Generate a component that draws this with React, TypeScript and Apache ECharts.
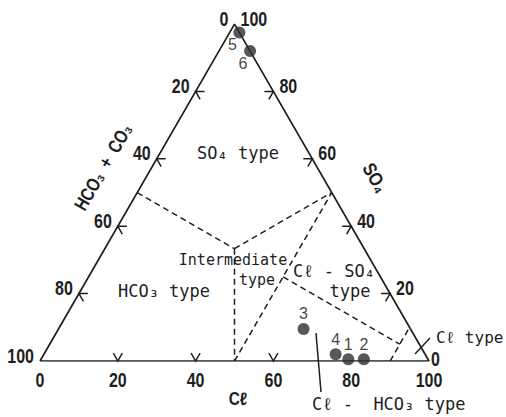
import React, { useEffect, useRef } from "react";
import * as echarts from "echarts";

// Sample compositions (% of anions): Cl, SO4, HCO3+CO3
const sampleIds = ["1", "2", "3", "4", "5", "6"];
const clPct = [79, 83, 63, 75, 2.5, 8];
const so4Pct = [0.5, 0.5, 9.5, 2, 97.5, 92];
const hco3Pct = [20.5, 16.5, 27.5, 23, 0, 0];

// Axis tick values / labels
const tickValues = [0, 20, 40, 60, 80, 100];
const tickLabels = ["0", "20", "40", "60", "80", "100"];
const sideChevronValues = [20, 40, 60, 80];
const bottomChevronValues = [20, 40, 60];

// Classification boundaries, endpoints given as [Cl, SO4] percent
const boundaryFrom = [
  [0, 50],
  [33.33, 33.33],
  [33.33, 33.33],
  [50, 0],
  [50, 25],
  [90, 0],
];
const boundaryTo = [
  [33.33, 33.33],
  [50, 50],
  [50, 0],
  [50, 50],
  [90, 5],
  [90, 10],
];

const H = Math.sqrt(3) / 2;
const xy = (cl: number, so4: number) => [cl + so4 / 2, so4 * H];

const INK = "#1e1e1e";
const NUM_FONT = "'Liberation Sans', Arial, sans-serif";
const MONO_FONT = "'DejaVu Sans Mono', 'Liberation Mono', monospace";

export default function App() {
  const ref = useRef<HTMLDivElement>(null);

  useEffect(() => {
    if (!ref.current) return;
    const chart = echarts.init(ref.current, undefined, { renderer: "svg" });

    const triangle = [xy(0, 0), xy(100, 0), xy(0, 100), xy(0, 0)];

    const boundarySeries = boundaryFrom.map((a, i) => ({
      type: "line",
      data: [xy(a[0], a[1]), xy(boundaryTo[i][0], boundaryTo[i][1])],
      symbol: "none",
      silent: true,
      lineStyle: { color: INK, width: 1.5, type: [6, 4] },
      z: 2,
    }));

    const chevronData: number[][] = [];
    bottomChevronValues.forEach((v) => chevronData.push([...xy(v, 0), 0]));
    sideChevronValues.forEach((v) => chevronData.push([...xy(0, 100 - v), 1]));
    sideChevronValues.forEach((v) => chevronData.push([...xy(100 - v, v), 2]));

    // [x, y, side, labelIndex]  side: 0 bottom (Cl), 1 left (HCO3+CO3), 2 right (SO4)
    const tickLabelData: number[][] = [];
    tickValues.forEach((v, i) => tickLabelData.push([...xy(v, 0), 0, i]));
    tickValues.forEach((v, i) => tickLabelData.push([...xy(0, 100 - v), 1, i]));
    tickValues.forEach((v, i) => tickLabelData.push([...xy(100 - v, v), 2, i]));

    const pointData = sampleIds.map((id, i) => {
      const total = clPct[i] + so4Pct[i] + hco3Pct[i];
      const c = (clPct[i] / total) * 100;
      const s = (so4Pct[i] / total) * 100;
      const nearApex = s > 50;
      return {
        name: id,
        value: xy(c, s),
        label: { offset: nearApex ? [-7, 12] : [0, -15] },
      };
    });

    const txt = (text: string, x: number, y: number, font: string, extra: any = {}) => {
      const { align, ...rest } = extra;
      return {
        type: "text",
        x,
        y,
        silent: true,
        ...rest,
        style: {
          text,
          font,
          fill: INK,
          align: align || "center",
          textAlign: align || "center",
          verticalAlign: "middle",
          textVerticalAlign: "middle",
        },
      };
    };

    chart.setOption({
      animation: false,
      backgroundColor: "#fff",
      grid: { left: 40, right: 77, top: 24.1, bottom: 56 },
      xAxis: { type: "value", min: 0, max: 100, show: false },
      yAxis: { type: "value", min: 0, max: 100 * H, show: false },
      series: [
        {
          type: "line",
          data: triangle,
          symbol: "none",
          silent: true,
          lineStyle: { color: INK, width: 1.7 },
          z: 3,
        },
        ...boundarySeries,
        {
          type: "custom",
          data: chevronData,
          encode: { x: 0, y: 1 },
          silent: true,
          z: 3,
          renderItem: (params: any, api: any) => {
            const p = api.coord([api.value(0), api.value(1)]);
            const side = api.value(2);
            const L = 9;
            let a: number[];
            let b: number[];
            if (side === 0) {
              a = [p[0] - L * 0.5, p[1] - L * H];
              b = [p[0] + L * 0.5, p[1] - L * H];
            } else if (side === 1) {
              a = [p[0] + L, p[1]];
              b = [p[0] + L * 0.5, p[1] + L * H];
            } else {
              a = [p[0] - L, p[1]];
              b = [p[0] - L * 0.5, p[1] + L * H];
            }
            return {
              type: "polyline",
              shape: { points: [a, p, b] },
              style: { stroke: INK, lineWidth: 1.5, fill: null },
            };
          },
        },
        {
          type: "custom",
          data: tickLabelData,
          encode: { x: 0, y: 1 },
          silent: true,
          z: 5,
          renderItem: (params: any, api: any) => {
            const p = api.coord([api.value(0), api.value(1)]);
            const side = api.value(2);
            const idx = api.value(3);
            let dx = 0;
            let dy = 0;
            let align = "center";
            if (side === 0) {
              dy = 19;
            } else if (side === 1) {
              dx = -6;
              dy = -5;
              align = "right";
            } else {
              align = "left";
              if (idx === 0) {
                dx = 2;
                dy = -2;
              } else {
                dx = 6;
                dy = -5;
              }
            }
            return {
              type: "text",
              x: p[0] + dx,
              y: p[1] + dy,
              scaleX: 0.8,
              style: {
                text: tickLabels[idx],
                font: `bold 20px ${NUM_FONT}`,
                fill: INK,
                align,
                verticalAlign: "middle",
              },
            };
          },
        },
        {
          type: "scatter",
          data: pointData,
          symbol: "circle",
          symbolSize: 12,
          itemStyle: { color: "#2e2e2e" },
          label: {
            show: true,
            position: "inside",
            formatter: (p: any) => p.name,
            color: "#111",
            fontSize: 16,
            fontFamily: NUM_FONT,
          },
          z: 10,
        },
      ],
      graphic: [
        txt("HCO₃  +  CO₃", 103, 167, `bold 19px ${NUM_FONT}`, { rotation: Math.PI / 3, scaleX: 0.8 }),
        txt("SO₄", 375, 178, `bold 19px ${NUM_FONT}`, { rotation: -Math.PI / 3, scaleX: 0.85 }),
        txt("Cℓ", 238, 399, `bold 18px ${NUM_FONT}`, { scaleX: 0.85 }),
        txt("SO₄ type", 238, 153, `17px ${MONO_FONT}`),
        txt("Intermediate", 233, 260, `15px ${MONO_FONT}`),
        txt("type", 257, 280, `15px ${MONO_FONT}`),
        txt("Cℓ - SO₄", 334, 271, `17px ${MONO_FONT}`),
        txt("type", 350, 291, `17px ${MONO_FONT}`),
        txt("HCO₃ type", 164, 291, `17px ${MONO_FONT}`),
        txt("Cℓ type", 436, 337, `16px ${MONO_FONT}`, { align: "left" }),
        txt("Cℓ -  HCO₃ type", 312, 404, `17px ${MONO_FONT}`, { align: "left" }),
        {
          type: "line",
          silent: true,
          shape: { x1: 316, y1: 333, x2: 321, y2: 392 },
          style: { stroke: INK, lineWidth: 1.5 },
        },
        {
          type: "line",
          silent: true,
          shape: { x1: 415, y1: 354, x2: 430, y2: 338 },
          style: { stroke: INK, lineWidth: 1.5 },
        },
      ],
    });

    return () => chart.dispose();
  }, []);

  return (
    <div
      ref={ref}
      style={{ position: "absolute", left: 0, top: 0, width: 506, height: 417 }}
    />
  );
}
